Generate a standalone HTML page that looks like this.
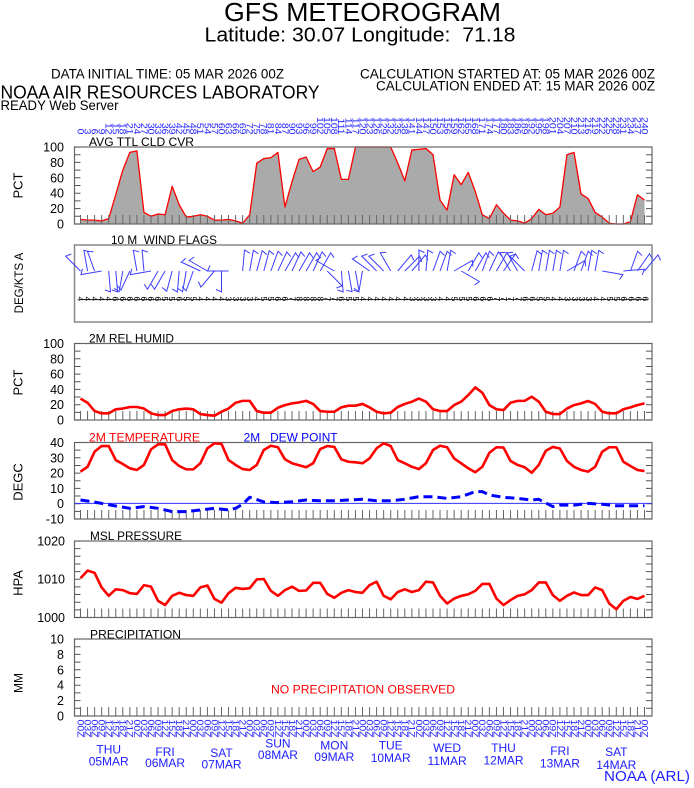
<!DOCTYPE html>
<html><head><meta charset="utf-8"><style>
html,body{margin:0;padding:0;background:#fff;}
svg{display:block;}
text{font-family:"Liberation Sans",Arial,sans-serif;}
</style></head><body>
<svg width="694" height="788" viewBox="0 0 694 788" xmlns="http://www.w3.org/2000/svg">
<rect width="694" height="788" fill="#fff"/>
<defs>
<path id="wb" d="M0,0V-21l5.5,2.5" fill="none" stroke="#3d3dff" stroke-width="1"/>
</defs>

<!-- HEADER -->
<text x="224" y="21" font-size="26" textLength="277" lengthAdjust="spacingAndGlyphs">GFS METEOROGRAM</text>
<text x="204.5" y="41.5" font-size="20" textLength="311" lengthAdjust="spacingAndGlyphs" style="white-space:pre">Latitude: 30.07 Longitude:  71.18</text>
<text x="51" y="78.3" font-size="13.5" textLength="233" lengthAdjust="spacingAndGlyphs">DATA INITIAL TIME: 05 MAR 2026 00Z</text>
<text x="360" y="78.3" font-size="13.5" textLength="295" lengthAdjust="spacingAndGlyphs">CALCULATION STARTED AT: 05 MAR 2026 00Z</text>
<text x="376" y="90.7" font-size="13.5" textLength="279" lengthAdjust="spacingAndGlyphs">CALCULATION ENDED AT: 15 MAR 2026 00Z</text>
<text x="0.5" y="98.3" font-size="18.5" textLength="319" lengthAdjust="spacingAndGlyphs">NOAA AIR RESOURCES LABORATORY</text>
<text x="0.5" y="110" font-size="13.5" textLength="118" lengthAdjust="spacingAndGlyphs">READY Web Server</text>

<!-- TOP HOUR LABELS -->
<g transform="translate(77.4,134.5) rotate(90) scale(1,0.85)" font-size="10.5" fill="#2a2aff" text-anchor="end">
<text y="0">0</text><text y="-8.294">3</text><text y="-16.588">6</text><text y="-24.882">9</text><text y="-33.176">12</text><text y="-41.471">15</text><text y="-49.765">18</text><text y="-58.059">21</text><text y="-66.353">24</text><text y="-74.647">27</text><text y="-82.941">30</text><text y="-91.235">33</text><text y="-99.529">36</text><text y="-107.824">39</text><text y="-116.118">42</text><text y="-124.412">45</text><text y="-132.706">48</text><text y="-141">51</text><text y="-149.294">54</text><text y="-157.588">57</text><text y="-165.882">60</text><text y="-174.176">63</text><text y="-182.471">66</text><text y="-190.765">69</text><text y="-199.059">72</text><text y="-207.353">75</text><text y="-215.647">78</text><text y="-223.941">81</text><text y="-232.235">84</text><text y="-240.529">87</text><text y="-248.824">90</text><text y="-257.118">93</text><text y="-265.412">96</text><text y="-273.706">99</text><text y="-282">102</text><text y="-290.294">105</text><text y="-298.588">108</text><text y="-306.882">111</text><text y="-315.176">114</text><text y="-323.471">117</text><text y="-331.765">120</text><text y="-340.059">123</text><text y="-348.353">126</text><text y="-356.647">129</text><text y="-364.941">132</text><text y="-373.235">135</text><text y="-381.529">138</text><text y="-389.824">141</text><text y="-398.118">144</text><text y="-406.412">147</text><text y="-414.706">150</text><text y="-423">153</text><text y="-431.294">156</text><text y="-439.588">159</text><text y="-447.882">162</text><text y="-456.176">165</text><text y="-464.471">168</text><text y="-472.765">171</text><text y="-481.059">174</text><text y="-489.353">177</text><text y="-497.647">180</text><text y="-505.941">183</text><text y="-514.235">186</text><text y="-522.529">189</text><text y="-530.824">192</text><text y="-539.118">195</text><text y="-547.412">198</text><text y="-555.706">201</text><text y="-564">204</text><text y="-572.294">207</text><text y="-580.588">210</text><text y="-588.882">213</text><text y="-597.176">216</text><text y="-605.471">219</text><text y="-613.765">222</text><text y="-622.059">225</text><text y="-630.353">228</text><text y="-638.647">231</text><text y="-646.941">234</text><text y="-655.235">237</text><text y="-663.529">240</text>
</g>

<!-- PANEL TITLES -->
<g font-size="11.5" fill="#000">
<text x="89" y="146" textLength="105" lengthAdjust="spacingAndGlyphs">AVG TTL CLD CVR</text>
<text x="111" y="244" textLength="106" lengthAdjust="spacingAndGlyphs" style="white-space:pre">10 M  WIND FLAGS</text>
<text x="89" y="342.5" textLength="85" lengthAdjust="spacingAndGlyphs">2M REL HUMID</text>
<text x="89" y="441.5" textLength="111" lengthAdjust="spacingAndGlyphs" fill="#ff0000">2M TEMPERATURE</text>
<text x="243.6" y="441.5" textLength="94" lengthAdjust="spacingAndGlyphs" fill="#0000ff" style="white-space:pre">2M   DEW POINT</text>
<text x="90" y="540" textLength="92" lengthAdjust="spacingAndGlyphs">MSL PRESSURE</text>
<text x="90" y="638.3" textLength="91" lengthAdjust="spacingAndGlyphs">PRECIPITATION</text>
</g>
<text x="271" y="693.5" font-size="12" fill="#ff0000" textLength="184" lengthAdjust="spacingAndGlyphs">NO PRECIPITATION OBSERVED</text>

<!-- AXIS LABELS (rotated) -->
<g font-size="13" fill="#000" text-anchor="middle">
<text transform="translate(22.5,185.5) rotate(-90)">PCT</text>
<text transform="translate(23,283) rotate(-90)" font-size="11.5">DEG/KTS A</text>
<text transform="translate(22.5,382.5) rotate(-90)">PCT</text>
<text transform="translate(22.5,482) rotate(-90)">DEGC</text>
<text transform="translate(22.5,583) rotate(-90)">HPA</text>
<text transform="translate(22.5,683) rotate(-90)" font-size="12">MM</text>
</g>

<!-- TICK LABELS -->
<g font-size="12.5" fill="#000" text-anchor="end">
<text x="64" y="151.5">100</text><text x="64" y="166.9">80</text><text x="64" y="182.3">60</text><text x="64" y="197.7">40</text><text x="64" y="213.1">20</text><text x="64" y="228.5">0</text>
<text x="64" y="348">100</text><text x="64" y="363.3">80</text><text x="64" y="378.6">60</text><text x="64" y="393.9">40</text><text x="64" y="409.2">20</text><text x="64" y="424.5">0</text>
<text x="64" y="447">40</text><text x="64" y="462.3">30</text><text x="64" y="477.5">20</text><text x="64" y="492.8">10</text><text x="64" y="508">0</text><text x="64" y="523.5">-10</text>
<text x="65" y="545.5">1020</text><text x="65" y="583.7">1010</text><text x="65" y="622">1000</text>
<text x="64" y="643.5">10</text><text x="64" y="658.9">8</text><text x="64" y="674.3">6</text><text x="64" y="689.7">4</text><text x="64" y="705.1">2</text><text x="64" y="720.5">0</text>
</g>

<!-- CLOUD COVER -->
<g transform="translate(80.5,224) scale(7.05,-0.77)">
<polygon fill="#aaaaaa" stroke="none" points="0,0 0,6 1,5 2,5 3,4 4,7 5,38 6,70 7,93 8,95 9,15 10,10 11,13 12,12 13,49 14,25 15,9 16,10 17,12 18,10 19,5 20,5 21,6 22,4 23,1 24,12 25,79 26,85 27,86 28,93 29,22 30,55 31,84 32,87 33,68 34,74 35,98 36,98 37,58 38,58 39,100 40,100 41,100 42,100 43,100 44,100 45,79 46,56 47,96 48,97 49,98 50,90 51,31 52,18 53,64 54,51 55,67 56,42 57,12 58,7 59,25 60,14 61,5 62,4 63,1 64,7 65,19 66,12 67,14 68,22 69,90 70,93 71,39 72,33 73,15 74,9 75,1 76,0 77,0 78,3 79,38 80,31 80,0"/>
<polyline fill="none" stroke="#ff0000" stroke-width="1.3" vector-effect="non-scaling-stroke" stroke-linejoin="round" points="0,6 1,5 2,5 3,4 4,7 5,38 6,70 7,93 8,95 9,15 10,10 11,13 12,12 13,49 14,25 15,9 16,10 17,12 18,10 19,5 20,5 21,6 22,4 23,1 24,12 25,79 26,85 27,86 28,93 29,22 30,55 31,84 32,87 33,68 34,74 35,98 36,98 37,58 38,58 39,100 40,100 41,100 42,100 43,100 44,100 45,79 46,56 47,96 48,97 49,98 50,90 51,31 52,18 53,64 54,51 55,67 56,42 57,12 58,7 59,25 60,14 61,5 62,4 63,1 64,7 65,19 66,12 67,14 68,22 69,90 70,93 71,39 72,33 73,15 74,9 75,1 76,0 77,0 78,3 79,38 80,31"/>
</g>

<!-- FRAMES -->
<g fill="none" stroke="#666" stroke-width="1.2">
<rect x="74.5" y="147" width="577.5" height="77"/>
<rect x="74.5" y="245" width="577.5" height="77" stroke="#888" stroke-width="1.5"/>
<rect x="74.5" y="343.5" width="577.5" height="76.5"/>
<rect x="74.5" y="442.5" width="577.5" height="76.5"/>
<rect x="74.5" y="541" width="577.5" height="76.5"/>
<rect x="74.5" y="639" width="577.5" height="77"/>
</g>

<!-- SIDE TICKS -->
<g stroke="#555" stroke-width="6" stroke-dashoffset="0.5">
<line x1="77.5" y1="147" x2="77.5" y2="225" stroke-dasharray="1 6.7"/>
<line x1="649" y1="147" x2="649" y2="225" stroke-dasharray="1 6.7"/>
<line x1="77.5" y1="343.5" x2="77.5" y2="421" stroke-dasharray="1 6.65"/>
<line x1="649" y1="343.5" x2="649" y2="421" stroke-dasharray="1 6.65"/>
<line x1="77.5" y1="442.5" x2="77.5" y2="520" stroke-dasharray="1 6.65"/>
<line x1="649" y1="442.5" x2="649" y2="520" stroke-dasharray="1 6.65"/>
<line x1="77.5" y1="541" x2="77.5" y2="618.5" stroke-dasharray="1 6.65"/>
<line x1="649" y1="541" x2="649" y2="618.5" stroke-dasharray="1 6.65"/>
<line x1="77.5" y1="639" x2="77.5" y2="717" stroke-dasharray="1 6.7"/>
<line x1="649" y1="639" x2="649" y2="717" stroke-dasharray="1 6.7"/>
</g>
<!-- BOTTOM TICKS -->
<g stroke="#666" stroke-width="9" stroke-dasharray="1 6.05">
<line x1="80" y1="219.5" x2="646" y2="219.5"/>
<line x1="80" y1="415.5" x2="646" y2="415.5"/>
<line x1="80" y1="514.5" x2="646" y2="514.5"/>
<line x1="80" y1="613" x2="646" y2="613"/>
<line x1="80" y1="711.5" x2="646" y2="711.5"/>
</g>

<!-- WIND BARBS -->
<g>
<use href="#wb" transform="translate(80.5,271) rotate(-45)"/>
<use href="#wb" transform="translate(87.55,271) rotate(-10)"/>
<use href="#wb" transform="translate(94.6,271) rotate(-20)"/>
<use href="#wb" transform="translate(101.65,271) rotate(-100)"/>
<use href="#wb" transform="translate(108.7,271) rotate(175)"/>
<use href="#wb" transform="translate(115.75,271) rotate(175)"/>
<use href="#wb" transform="translate(122.8,271) rotate(190)"/>
<use href="#wb" transform="translate(129.85,271) rotate(205)"/>
<use href="#wb" transform="translate(136.9,271) rotate(-10)"/>
<use href="#wb" transform="translate(143.95,271) rotate(-5)"/>
<use href="#wb" transform="translate(151,271) rotate(-100)"/>
<use href="#wb" transform="translate(158.05,271) rotate(210)"/>
<use href="#wb" transform="translate(165.1,271) rotate(210)"/>
<use href="#wb" transform="translate(172.15,271) rotate(195)"/>
<use href="#wb" transform="translate(179.2,271) rotate(185)"/>
<use href="#wb" transform="translate(186.25,271) rotate(190)"/>
<use href="#wb" transform="translate(193.3,271) rotate(200)"/>
<use href="#wb" transform="translate(200.35,271) rotate(-65)"/>
<use href="#wb" transform="translate(207.4,271) rotate(-60)"/>
<use href="#wb" transform="translate(214.45,271) rotate(220)"/>
<use href="#wb" transform="translate(221.5,271) rotate(180)"/>
<use href="#wb" transform="translate(228.55,271) rotate(-90)"/>
<use href="#wb" transform="translate(242.65,271) rotate(5)"/>
<use href="#wb" transform="translate(249.7,271) rotate(10)"/>
<use href="#wb" transform="translate(256.75,271) rotate(15)"/>
<use href="#wb" transform="translate(263.8,271) rotate(15)"/>
<use href="#wb" transform="translate(270.85,271) rotate(20)"/>
<use href="#wb" transform="translate(277.9,271) rotate(25)"/>
<use href="#wb" transform="translate(284.95,271) rotate(30)"/>
<use href="#wb" transform="translate(292,271) rotate(25)"/>
<use href="#wb" transform="translate(299.05,271) rotate(30)"/>
<use href="#wb" transform="translate(306.1,271) rotate(30)"/>
<use href="#wb" transform="translate(313.15,271) rotate(25)"/>
<use href="#wb" transform="translate(320.2,271) rotate(30)"/>
<use href="#wb" transform="translate(327.25,271) rotate(135)"/>
<use href="#wb" transform="translate(334.3,271) rotate(-60)"/>
<use href="#wb" transform="translate(341.35,271) rotate(175)"/>
<use href="#wb" transform="translate(348.4,271) rotate(170)"/>
<use href="#wb" transform="translate(355.45,271) rotate(170)"/>
<use href="#wb" transform="translate(362.5,271) rotate(190)"/>
<use href="#wb" transform="translate(369.55,271) rotate(-55)"/>
<use href="#wb" transform="translate(376.6,271) rotate(-45)"/>
<use href="#wb" transform="translate(383.65,271) rotate(-45)"/>
<use href="#wb" transform="translate(390.7,271) rotate(-30)"/>
<use href="#wb" transform="translate(397.75,271) rotate(40)"/>
<use href="#wb" transform="translate(404.8,271) rotate(45)"/>
<use href="#wb" transform="translate(411.85,271) rotate(40)"/>
<use href="#wb" transform="translate(418.9,271) rotate(0)"/>
<use href="#wb" transform="translate(425.95,271) rotate(5)"/>
<use href="#wb" transform="translate(433,271) rotate(20)"/>
<use href="#wb" transform="translate(440.05,271) rotate(20)"/>
<use href="#wb" transform="translate(447.1,271) rotate(10)"/>
<use href="#wb" transform="translate(454.15,271) rotate(60)"/>
<use href="#wb" transform="translate(461.2,271) rotate(120)"/>
<use href="#wb" transform="translate(468.25,271) rotate(30)"/>
<use href="#wb" transform="translate(475.3,271) rotate(30)"/>
<use href="#wb" transform="translate(482.35,271) rotate(20)"/>
<use href="#wb" transform="translate(489.4,271) rotate(25)"/>
<use href="#wb" transform="translate(496.45,271) rotate(30)"/>
<use href="#wb" transform="translate(503.5,271) rotate(35)"/>
<use href="#wb" transform="translate(510.55,271) rotate(-30)"/>
<use href="#wb" transform="translate(517.6,271) rotate(-30)"/>
<use href="#wb" transform="translate(524.65,271) rotate(-45)"/>
<use href="#wb" transform="translate(531.7,271) rotate(15)"/>
<use href="#wb" transform="translate(538.75,271) rotate(10)"/>
<use href="#wb" transform="translate(545.8,271) rotate(10)"/>
<use href="#wb" transform="translate(552.85,271) rotate(10)"/>
<use href="#wb" transform="translate(559.9,271) rotate(10)"/>
<use href="#wb" transform="translate(566.95,271) rotate(60)"/>
<use href="#wb" transform="translate(574,271) rotate(20)"/>
<use href="#wb" transform="translate(581.05,271) rotate(20)"/>
<use href="#wb" transform="translate(588.1,271) rotate(10)"/>
<use href="#wb" transform="translate(595.15,271) rotate(10)"/>
<use href="#wb" transform="translate(602.2,271) rotate(100)"/>
<use href="#wb" transform="translate(623.35,271) rotate(85)"/>
<use href="#wb" transform="translate(630.4,271) rotate(20)"/>
<use href="#wb" transform="translate(637.45,271) rotate(35)"/>
<use href="#wb" transform="translate(644.5,271) rotate(40)"/>
</g>
<line x1="80" y1="299.5" x2="648" y2="299.5" stroke="#000" stroke-width="0.8"/>
<text x="77.4" y="296.5" font-size="8.5" fill="#000" rotate="90" style="letter-spacing:2.324px">444446666666556554444333345566788887765544444443333445556667777665544333344556666</text>

<!-- RH -->
<polyline transform="translate(80.5,420) scale(7.05,-0.765)" fill="none" stroke="#ff0000" stroke-width="2.6" vector-effect="non-scaling-stroke" stroke-linejoin="round" points="0,28 1,22.6 2,11.7 3,8.7 4,8.7 5,14 6,15 7,17 8,17 9,15 10,8.7 11,6.5 12,6.5 13,11.7 14,14 15,15 16,14 17,7.8 18,6.5 19,5.6 20,10.8 21,15 22,22.6 23,25 24,25 25,11.7 26,9.5 27,9.5 28,16 29,19.5 30,21.7 31,23 32,25 33,21 34,11.7 35,10.8 36,10.8 37,16.5 38,18.7 39,18.7 40,21 41,16.5 42,10.8 43,8.7 44,9.5 45,17 46,21 47,23.9 48,28 49,24 50,14 51,11.7 52,11.7 53,19.5 54,24 55,32.6 56,42.6 57,35.6 58,19.5 59,14 60,13 61,22.6 62,25 63,25 64,30.4 65,24 66,10.8 67,7.8 68,7.8 69,15 70,19.5 71,21.7 72,24.8 73,21 74,10.8 75,8.7 76,8.7 77,14 78,16.5 79,19.5 80,21.7"/>

<!-- TEMP -->
<line x1="74.5" y1="503.4" x2="652" y2="503.4" stroke="#3333ff" stroke-width="1"/>
<polyline transform="translate(80.5,503.4) scale(7.05,-1.526)" fill="none" stroke="#ff0000" stroke-width="2.6" vector-effect="non-scaling-stroke" stroke-linejoin="round" points="0,20.8 1,24 2,33.9 3,37.6 4,37.6 5,28.4 6,25.8 7,23 8,21.9 9,25.2 10,35.4 11,38.7 12,38.7 13,28.4 14,24.5 15,22.3 16,22.3 17,26.3 18,36.1 19,39.4 20,39 21,28.4 22,25.2 23,22.5 24,21.9 25,25.2 26,35 27,37.8 28,36.8 29,28.9 30,26.3 31,25 32,23.7 33,26.3 34,35.6 35,37.6 36,37 37,28.9 38,27.3 39,26.9 40,26.3 41,29.5 42,36.1 43,39.4 44,37.6 45,28.4 46,26.3 47,24 48,22.5 49,26.3 50,35 51,37.8 52,36.8 53,29.5 54,26.3 55,23 56,20.4 57,24 58,33.2 59,36.8 60,36.6 61,27.8 62,25.2 63,23.7 64,20.1 65,25.2 66,34.5 67,37 68,36 69,27.8 70,24 71,21.9 72,20.8 73,24 74,33.9 75,36.8 76,36.8 77,27.3 78,24.5 79,21.9 80,21.2"/>
<path fill="none" stroke="#0000ff" stroke-width="3" stroke-dasharray="9 5" d="M80.5,500 L87.55,501 L101.65,503.4 L115.75,506 L129.85,508.3 L143.95,506.6 L158.05,508.3 L172.15,511.6 L186.25,511.6 L200.35,510 L214.45,508.3 L228.55,510 L235.6,508.3 L242.65,504.2 L249.7,497.3 L256.75,499.6 L263.8,501.9 L277.9,502.6 L292,501.7 L306.1,500 L320.2,500.8 L334.3,500.8 L348.4,500 L362.5,499.3 L376.6,500.8 L390.7,500.8 L404.8,499.3 L418.9,496.7 L433,496.7 L447.1,498.4 L461.2,496.7 L475.3,491.6 L482.35,491.6 L489.4,495 L503.5,497.3 L517.6,498.4 L531.7,500 L538.75,499.3 L552.85,506.6 L559.9,505.1 L574,505.1 L588.1,503.4 L602.2,504.2 L616.3,505.8 L630.4,505.8 L644.5,505.8"/>

<!-- PRESSURE -->
<polyline transform="translate(80.5,617.3) scale(7.05,-3.83)" fill="none" stroke="#ff0000" stroke-width="2.6" vector-effect="non-scaling-stroke" stroke-linejoin="round" points="0,10.2 1,12.2 2,11.6 3,7.8 4,5.6 5,7.3 6,7.1 7,6.3 8,6.1 9,8.4 10,8 11,4.3 12,3.2 13,5.6 14,6.4 15,5.8 16,5.6 17,7.8 18,8.3 19,4.8 20,3.8 21,6.3 22,7.7 23,7.4 24,7.6 25,9.9 26,10 27,6.9 28,5.6 29,7.1 30,8 31,6.9 32,7 33,9 34,9 35,6.1 36,5.1 37,6.4 38,7.1 39,6.6 40,6.4 41,8.4 42,9.3 43,5.6 44,4.7 45,6.6 46,7.3 47,6.6 48,7.1 49,9.3 50,9.1 51,5.6 52,3.6 53,4.9 54,5.6 55,6 56,6.9 57,8.7 58,8.7 59,4.9 60,3.2 61,4.5 62,5.6 63,6 64,7.1 65,9.1 66,9.1 67,5.8 68,4.3 69,5.6 70,6.5 71,5.8 72,5.8 73,7.8 74,7.1 75,3.6 76,2.1 77,4.3 78,5.3 79,4.8 80,5.6"/>

<!-- BOTTOM HOUR LABELS -->
<g transform="translate(77.4,719.5) rotate(90) scale(1,0.85)" font-size="10.5" fill="#2a2aff">
<text y="0">00Z</text><text y="-8.294">03Z</text><text y="-16.588">06Z</text><text y="-24.882">09Z</text><text y="-33.176">12Z</text><text y="-41.471">15Z</text><text y="-49.765">18Z</text><text y="-58.059">21Z</text><text y="-66.353">00Z</text><text y="-74.647">03Z</text><text y="-82.941">06Z</text><text y="-91.235">09Z</text><text y="-99.529">12Z</text><text y="-107.824">15Z</text><text y="-116.118">18Z</text><text y="-124.412">21Z</text><text y="-132.706">00Z</text><text y="-141">03Z</text><text y="-149.294">06Z</text><text y="-157.588">09Z</text><text y="-165.882">12Z</text><text y="-174.176">15Z</text><text y="-182.471">18Z</text><text y="-190.765">21Z</text><text y="-199.059">00Z</text><text y="-207.353">03Z</text><text y="-215.647">06Z</text><text y="-223.941">09Z</text><text y="-232.235">12Z</text><text y="-240.529">15Z</text><text y="-248.824">18Z</text><text y="-257.118">21Z</text><text y="-265.412">00Z</text><text y="-273.706">03Z</text><text y="-282">06Z</text><text y="-290.294">09Z</text><text y="-298.588">12Z</text><text y="-306.882">15Z</text><text y="-315.176">18Z</text><text y="-323.471">21Z</text><text y="-331.765">00Z</text><text y="-340.059">03Z</text><text y="-348.353">06Z</text><text y="-356.647">09Z</text><text y="-364.941">12Z</text><text y="-373.235">15Z</text><text y="-381.529">18Z</text><text y="-389.824">21Z</text><text y="-398.118">00Z</text><text y="-406.412">03Z</text><text y="-414.706">06Z</text><text y="-423">09Z</text><text y="-431.294">12Z</text><text y="-439.588">15Z</text><text y="-447.882">18Z</text><text y="-456.176">21Z</text><text y="-464.471">00Z</text><text y="-472.765">03Z</text><text y="-481.059">06Z</text><text y="-489.353">09Z</text><text y="-497.647">12Z</text><text y="-505.941">15Z</text><text y="-514.235">18Z</text><text y="-522.529">21Z</text><text y="-530.824">00Z</text><text y="-539.118">03Z</text><text y="-547.412">06Z</text><text y="-555.706">09Z</text><text y="-564">12Z</text><text y="-572.294">15Z</text><text y="-580.588">18Z</text><text y="-588.882">21Z</text><text y="-597.176">00Z</text><text y="-605.471">03Z</text><text y="-613.765">06Z</text><text y="-622.059">09Z</text><text y="-630.353">12Z</text><text y="-638.647">15Z</text><text y="-646.941">18Z</text><text y="-655.235">21Z</text><text y="-663.529">00Z</text>
</g>

<!-- DAY LABELS -->
<g font-size="12" fill="#2020ff" text-anchor="middle">
<text x="108.7" y="753.5">THU</text><text x="108.7" y="765.3">05MAR</text>
<text x="165.1" y="756">FRI</text><text x="165.1" y="767">06MAR</text>
<text x="221.5" y="757">SAT</text><text x="221.5" y="768.5">07MAR</text>
<text x="277.9" y="747.5">SUN</text><text x="277.9" y="759">08MAR</text>
<text x="334.3" y="749.5">MON</text><text x="334.3" y="761">09MAR</text>
<text x="390.7" y="749.5">TUE</text><text x="390.7" y="762">10MAR</text>
<text x="447.1" y="752">WED</text><text x="447.1" y="765">11MAR</text>
<text x="503.5" y="752">THU</text><text x="503.5" y="764.5">12MAR</text>
<text x="559.9" y="755">FRI</text><text x="559.9" y="767.5">13MAR</text>
<text x="616.3" y="756">SAT</text><text x="616.3" y="769">14MAR</text>
</g>
<text x="604" y="781" font-size="15" fill="#2020ff" textLength="86" lengthAdjust="spacingAndGlyphs">NOAA (ARL)</text>
</svg>
</body></html>
